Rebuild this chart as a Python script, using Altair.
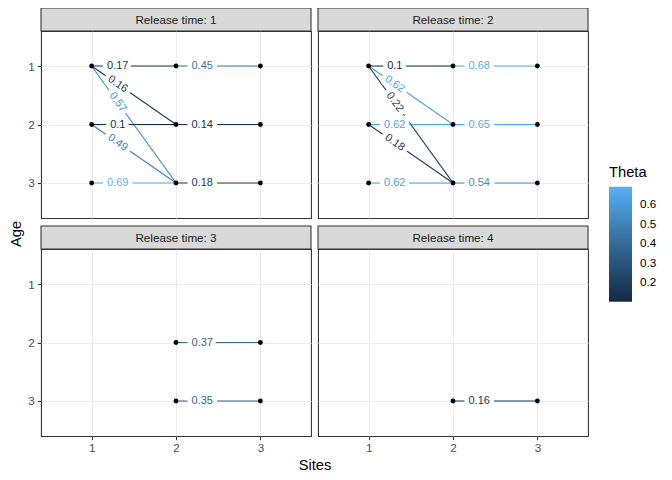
import math
import altair as alt
import pandas as pd

# ---- data ----
release   = [1, 1, 1, 1, 1, 1, 1, 1, 1,
             2, 2, 2, 2, 2, 2, 2, 2, 2,
             3, 3,
             4]
site_from = [1, 1, 1, 1, 1, 1, 2, 2, 2,
             1, 1, 1, 1, 1, 1, 2, 2, 2,
             2, 2,
             2]
site_to   = [2, 2, 2, 2, 2, 2, 3, 3, 3,
             2, 2, 2, 2, 2, 2, 3, 3, 3,
             3, 3,
             3]
age_from  = [1, 1, 1, 2, 2, 3, 1, 2, 3,
             1, 1, 1, 2, 2, 3, 1, 2, 3,
             2, 3,
             3]
age_to    = [1, 2, 3, 2, 3, 3, 1, 2, 3,
             1, 2, 3, 2, 3, 3, 1, 2, 3,
             2, 3,
             3]
theta     = [0.17, 0.16, 0.57, 0.1, 0.49, 0.69, 0.45, 0.14, 0.18,
             0.1, 0.62, 0.22, 0.62, 0.18, 0.62, 0.68, 0.65, 0.54,
             0.37, 0.35,
             0.16]
site_ticks = [1, 2, 3]
age_ticks = [1, 2, 3]
legend_ticks = [0.2, 0.3, 0.4, 0.5, 0.6]
release_times = [1, 2, 3, 4]

# ---- layout / style ----
W, H = 270, 187
XDOM = [0.4, 3.6]
YDOM = [0.4, 3.6]
FRAC = 0.31
PX_X = W / (XDOM[1] - XDOM[0])
PX_Y = H / (YDOM[1] - YDOM[0])
FONT = "Liberation Sans"
LOW, HIGH = "#132B43", "#56B1F7"

seg = pd.DataFrame(dict(release=release, x1=site_from, x2=site_to,
                        y1=age_from, y2=age_to, theta=theta))
seg["lx"] = seg.x1 + FRAC * (seg.x2 - seg.x1)
seg["ly"] = seg.y1 + FRAC * (seg.y2 - seg.y1)
seg["angle"] = [math.degrees(math.atan2((b - a) * PX_Y, (d - c) * PX_X))
                for a, b, c, d in zip(seg.y1, seg.y2, seg.x1, seg.x2)]
seg["label"] = [f"{v:g}" for v in seg.theta]

pts = pd.concat([
    seg[["release", "x1", "y1"]].rename(columns={"x1": "px", "y1": "py"}),
    seg[["release", "x2", "y2"]].rename(columns={"x2": "px", "y2": "py"}),
]).drop_duplicates()


def stroke_scale():
    return alt.Scale(domain=[min(theta), max(theta)], range=[LOW, HIGH],
                     interpolate="lab")


def fill_scale():
    # data-driven domain (same extent) so it is not merged into the legend
    return alt.Scale(range=[LOW, HIGH], interpolate="lab", zero=False,
                     nice=False)


legend = alt.Legend(title="Theta", type="gradient", values=legend_ticks,
                    orient="none", legendX=568, legendY=134,
                    gradientLength=115, gradientThickness=23,
                    gradientStrokeWidth=0, direction="vertical",
                    labelFontSize=11.7, labelColor="black", labelOffset=8,
                    titleFontSize=14.7, titleFontWeight="normal",
                    titleColor="black", titlePadding=7, labelFont=FONT,
                    titleFont=FONT)


def xs():
    return alt.Scale(domain=XDOM, nice=False, zero=False)


def ys():
    return alt.Scale(domain=YDOM, nice=False, zero=False, reverse=True)


def make_xaxis(r, bottom):
    kw = dict(values=site_ticks, format="d", grid=True, gridColor="#EBEBEB",
              gridWidth=1.07, domain=False)
    if bottom:
        kw.update(labels=True, ticks=True, tickColor="#333333", tickSize=3.7,
                  tickWidth=1.07, labelColor="#4D4D4D", labelFontSize=11.7,
                  labelPadding=3, labelFont=FONT)
        if r == 3:
            kw.update(titleX=273.5, titleFontSize=14.7, titleFontWeight="normal",
                      titleColor="black", titlePadding=3, titleFont=FONT)
    else:
        kw.update(labels=False, ticks=False)
    return alt.Axis(**kw)


def make_yaxis(r, left):
    kw = dict(values=age_ticks, format="d", grid=True, gridColor="#EBEBEB",
              gridWidth=1.07, domain=False)
    if left:
        kw.update(labels=True, ticks=True, tickColor="#333333", tickSize=3.7,
                  tickWidth=1.07, labelColor="#4D4D4D", labelFontSize=11.7,
                  labelPadding=3, labelFont=FONT)
        if r == 1:
            kw.update(titleY=202.5, titleFontSize=14.7, titleFontWeight="normal",
                      titleColor="black", titlePadding=4, titleFont=FONT)
    else:
        kw.update(labels=False, ticks=False)
    return alt.Axis(**kw)


def panel(r, left, bottom):
    d = seg[seg.release == r]
    p = pts[pts.release == r]
    xt = "Sites" if r == 3 else None
    yt = "Age" if r == 1 else None

    def X(f):
        return alt.X(f, scale=xs(), axis=make_xaxis(r, bottom), title=xt)

    def Y(f):
        return alt.Y(f, scale=ys(), axis=make_yaxis(r, left), title=yt)

    lines = alt.Chart(d).mark_rule(strokeWidth=1.07).encode(
        x=X("x1:Q"), y=Y("y1:Q"), x2="x2:Q", y2="y2:Q",
        stroke=alt.Stroke("theta:Q", scale=stroke_scale(), legend=legend))
    halo = alt.Chart(d).mark_text(
        font=FONT, fontSize=11, stroke="white", strokeWidth=9,
        strokeJoin="round", fill="white").encode(
        x=X("lx:Q"), y=Y("ly:Q"), text="label:N",
        angle=alt.Angle("angle:Q", scale=None))
    dots = alt.Chart(p).mark_circle(size=24, color="black", opacity=1).encode(
        x=X("px:Q"), y=Y("py:Q"))
    labels = alt.Chart(d).mark_text(font=FONT, fontSize=11).encode(
        x=X("lx:Q"), y=Y("ly:Q"), text="label:N",
        angle=alt.Angle("angle:Q", scale=None),
        fill=alt.Fill("theta:Q", scale=fill_scale(), legend=None))

    sdf = pd.DataFrame({"label": [f"Release time: {r}"]})
    strip = alt.Chart(sdf).mark_rect(
        fill="#D9D9D9", stroke="#333333", strokeWidth=1.07).encode(
        x=alt.value(0), x2=alt.value(W), y=alt.value(-23), y2=alt.value(0))
    strip_text = alt.Chart(sdf).mark_text(
        font=FONT, fontSize=11.7, color="#1A1A1A").encode(
        text="label:N", x=alt.value(W / 2), y=alt.value(-11.5))

    return alt.layer(lines, halo, dots, labels, strip, strip_text).properties(
        width=W, height=H)


panels = [panel(1, True, False), panel(2, False, False),
          panel(3, True, True), panel(4, False, True)]

chart = alt.concat(*panels, columns=2, spacing={"row": 31, "column": 7},
                   bounds="flush").properties(
    padding={"left": 0, "top": -2, "right": 2, "bottom": 2}
).configure(font=FONT).configure_view(
    stroke="#333333", strokeWidth=1.07, fill="white")

chart.save("out.html", embed_options={"renderer": "svg", "actions": False})
